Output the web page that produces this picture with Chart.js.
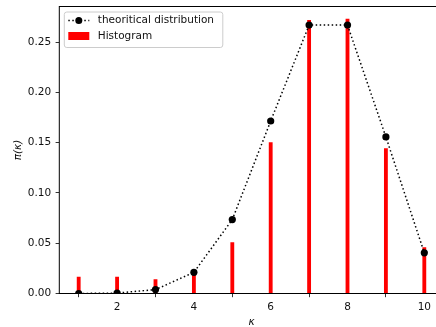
<!DOCTYPE html>
<html><head><meta charset="utf-8">
<script src="https://cdn.jsdelivr.net/npm/chart.js@4"></script>
<style>
html,body{margin:0;padding:0;background:#fff;overflow:hidden;width:436px;height:327px}
#wrap{position:relative;width:452px;height:327px}
canvas{display:block}
</style></head>
<body><div id="wrap"><canvas id="c" width="452" height="327"></canvas></div>
<script>
const ks = [1, 2, 3, 4, 5, 6, 7, 8, 9, 10];
const theoretical = [0.0000, 0.0004, 0.0039, 0.0210, 0.0735, 0.1715, 0.2668, 0.2668, 0.1556, 0.0404];
const histogram = [0.0167, 0.0167, 0.0141, 0.0190, 0.0509, 0.1503, 0.2720, 0.2730, 0.1443, 0.0459];
const xTicks = [2, 4, 6, 8, 10];
const yTicks = [0, 0.05, 0.10, 0.15, 0.20, 0.25];
const seriesLabels = ['theoritical distribution', 'Histogram'];
const xTitle = 'κ';
const yTitle = 'π(κ)';

const FONT = 'DejaVu Sans';
const FS = 10.5;

const framePlugin = {
  id: 'frame',
  afterDatasetsDraw(chart) {
    const {ctx, chartArea: a} = chart;
    ctx.save();
    ctx.strokeStyle = '#000';
    ctx.lineWidth = 1;
    ctx.strokeRect(a.left, a.top, a.right - a.left, a.bottom - a.top);
    // legend
    const lx = a.left + 5, ly = a.top + 5.5, lw = 158.5, lh = 35.5, r = 2.5;
    ctx.beginPath();
    ctx.moveTo(lx + r, ly);
    ctx.lineTo(lx + lw - r, ly); ctx.arcTo(lx + lw, ly, lx + lw, ly + r, r);
    ctx.lineTo(lx + lw, ly + lh - r); ctx.arcTo(lx + lw, ly + lh, lx + lw - r, ly + lh, r);
    ctx.lineTo(lx + r, ly + lh); ctx.arcTo(lx, ly + lh, lx, ly + lh - r, r);
    ctx.lineTo(lx, ly + r); ctx.arcTo(lx, ly, lx + r, ly, r);
    ctx.closePath();
    ctx.fillStyle = 'rgba(255,255,255,0.8)';
    ctx.fill();
    ctx.strokeStyle = '#cccccc';
    ctx.lineWidth = 1;
    ctx.stroke();
    // line handle
    const y1 = ly + 8.5;
    ctx.strokeStyle = '#000';
    ctx.lineWidth = 1.5;
    ctx.setLineDash([1.5, 2.5]);
    ctx.beginPath(); ctx.moveTo(lx + 4, y1); ctx.lineTo(lx + 25, y1); ctx.stroke();
    ctx.setLineDash([]);
    ctx.fillStyle = '#000';
    ctx.beginPath(); ctx.arc(lx + 14.5, y1, 3.5, 0, Math.PI * 2); ctx.fill();
    // bar handle
    const y2 = ly + 24;
    ctx.fillStyle = '#ff0000';
    ctx.fillRect(lx + 4, y2 - 4, 21, 8);
    ctx.fillStyle = '#111';
    ctx.font = FS + 'px "' + FONT + '"';
    ctx.textBaseline = 'middle';
    ctx.textAlign = 'left';
    ctx.fillText(seriesLabels[0], lx + 33.5, y1);
    ctx.fillText(seriesLabels[1], lx + 33.5, y2);
    ctx.restore();
  }
};

new Chart(document.getElementById('c'), {
  type: 'bar',
  data: {
    datasets: [
      {
        type: 'line',
        label: seriesLabels[0],
        data: ks.map((k, i) => ({x: k, y: theoretical[i]})),
        borderColor: '#000',
        backgroundColor: '#000',
        borderWidth: 1.5,
        borderDash: [1.5, 2.5],
        pointRadius: 3.6,
        pointBackgroundColor: '#000',
        pointBorderWidth: 0,
        tension: 0,
        fill: false,
        order: 0
      },
      {
        type: 'bar',
        label: seriesLabels[1],
        data: ks.map((k, i) => ({x: k, y: histogram[i]})),
        backgroundColor: '#ff0000',
        borderWidth: 0,
        barPercentage: 0.1,
        categoryPercentage: 1,
        order: 1
      }
    ]
  },
  options: {
    responsive: false,
    animation: false,
    layout: {padding: {top: 6.5, right: 8.3, left: 0, bottom: 0}},
    plugins: {legend: {display: false}, tooltip: {enabled: false}},
    scales: {
      x: {
        type: 'linear',
        offset: false,
        min: 0.495,
        max: 10.505,
        afterBuildTicks: s => { s.ticks = xTicks.map(v => ({value: v})); },
        afterFit: s => { s.height = 33.5; s.paddingLeft = 0; s.paddingRight = 0; s.paddingTop = 0; s.paddingBottom = 0; },
        border: {display: false},
        grid: {display: true, drawOnChartArea: false, drawTicks: true, tickLength: 3.7, color: '#000', lineWidth: 0.8},
        ticks: {color: '#111', font: {family: FONT, size: FS}, padding: 3.5, maxRotation: 0, callback: v => String(v)},
        title: {display: true, text: xTitle, color: '#111', font: {family: FONT, size: FS, style: 'italic'}, padding: {top: 0, bottom: -1.5}}
      },
      y: {
        type: 'linear',
        min: 0,
        max: 0.2853,
        afterBuildTicks: s => { s.ticks = yTicks.map(v => ({value: v})); },
        afterFit: s => { s.width = 59.3; s.paddingLeft = 0; s.paddingRight = 0; s.paddingTop = 0; s.paddingBottom = 0; },
        border: {display: false},
        grid: {display: true, drawOnChartArea: false, drawTicks: true, tickLength: 3.7, color: '#000', lineWidth: 0.8},
        ticks: {color: '#111', font: {family: FONT, size: FS}, padding: 4.5, callback: v => Number(v).toFixed(2)},
        title: {display: true, text: yTitle, color: '#111', font: {family: FONT, size: FS, style: 'italic'}, padding: {top: 12, bottom: 0}}
      }
    }
  },
  plugins: [framePlugin]
});
</script>
</body></html>
